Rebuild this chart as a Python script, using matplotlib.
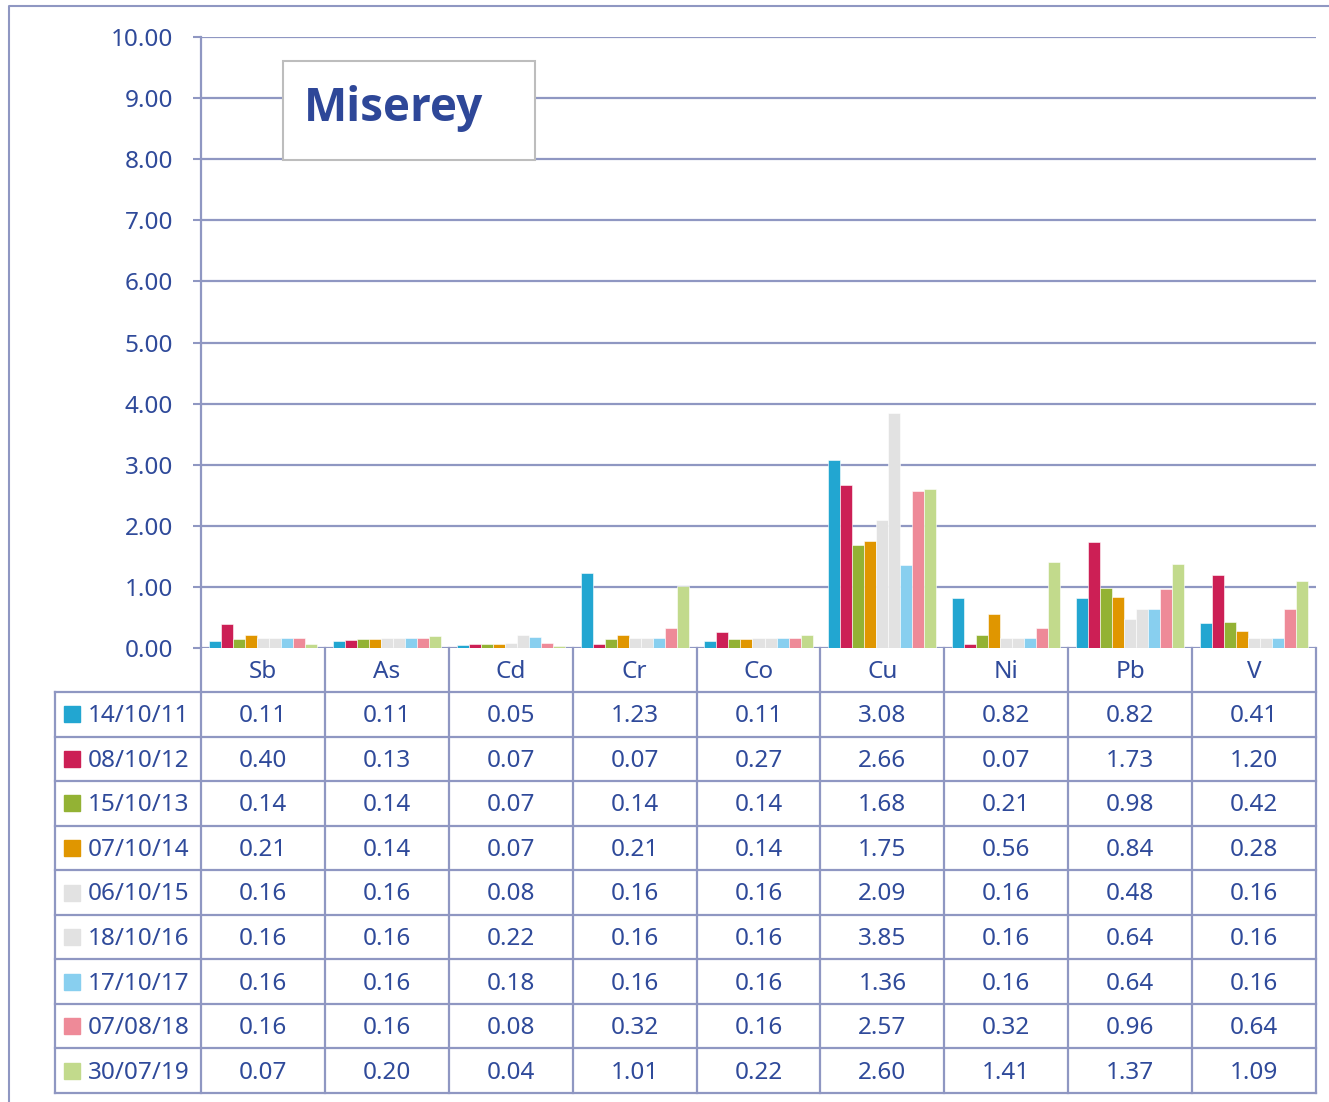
import matplotlib
matplotlib.use("Agg")
import matplotlib.pyplot as plt
import numpy as np

# data
elements = ["Sb", "As", "Cd", "Cr", "Co", "Cu", "Ni", "Pb", "V"]
dates = ["14/10/11", "08/10/12", "15/10/13", "07/10/14", "06/10/15",
         "18/10/16", "17/10/17", "07/08/18", "30/07/19"]
v_141011 = [0.11, 0.11, 0.05, 1.23, 0.11, 3.08, 0.82, 0.82, 0.41]
v_081012 = [0.40, 0.13, 0.07, 0.07, 0.27, 2.66, 0.07, 1.73, 1.20]
v_151013 = [0.14, 0.14, 0.07, 0.14, 0.14, 1.68, 0.21, 0.98, 0.42]
v_071014 = [0.21, 0.14, 0.07, 0.21, 0.14, 1.75, 0.56, 0.84, 0.28]
v_061015 = [0.16, 0.16, 0.08, 0.16, 0.16, 2.09, 0.16, 0.48, 0.16]
v_181016 = [0.16, 0.16, 0.22, 0.16, 0.16, 3.85, 0.16, 0.64, 0.16]
v_171017 = [0.16, 0.16, 0.18, 0.16, 0.16, 1.36, 0.16, 0.64, 0.16]
v_070818 = [0.16, 0.16, 0.08, 0.32, 0.16, 2.57, 0.32, 0.96, 0.64]
v_300719 = [0.07, 0.20, 0.04, 1.01, 0.22, 2.60, 1.41, 1.37, 1.09]
series = [v_141011, v_081012, v_151013, v_071014, v_061015,
          v_181016, v_171017, v_070818, v_300719]
colors = ["#22A6D1", "#CC1F55", "#93B234", "#E09600", "#E2E2E2",
          "#E2E2E2", "#88CFEF", "#EE8A98", "#C2DA8C"]

TXT = "#2F4A9A"
GRID = "#8F97C2"
FONT = "Noto Sans"
FS = 17.5

W, H = 1329, 1102
fig = plt.figure(figsize=(W / 100, H / 100), dpi=100)

# chart area in pixel coordinates
x0, x1, ytop, ybot = 201, 1316, 37, 648
ax = fig.add_axes([x0 / W, 1 - ybot / H, (x1 - x0) / W, (ybot - ytop) / H])
n = len(elements)
k = len(series)
bw = 0.097
x = np.arange(n)
for i, (vals, c) in enumerate(zip(series, colors)):
    ax.bar(x - bw * k / 2 + bw * (i + 0.5), vals, bw, color=c, zorder=3,
           edgecolor="white", linewidth=0.4)
ax.set_xlim(-0.5, n - 0.5)
ax.set_ylim(0, 10)
ax.set_yticks(np.arange(0, 11, 1))
ax.set_yticklabels([f"{t:.2f}" for t in range(11)], fontsize=FS,
                   color=TXT, family=FONT)
ax.tick_params(axis="y", length=6, width=1.5, color=GRID, pad=14)
ax.set_xticks([])
ax.grid(axis="y", color=GRID, linewidth=1.6, zorder=0)
for s in ["top", "right", "bottom"]:
    ax.spines[s].set_visible(False)
ax.spines["left"].set_color(GRID)
ax.spines["left"].set_linewidth(1.6)

# overlay for the title box, table and frame, in pixels
ov = fig.add_axes([0, 0, 1, 1])
ov.set_xlim(0, W)
ov.set_ylim(H, 0)
ov.axis("off")
ov.patch.set_alpha(0)

ov.plot([9, 9, W + 5], [H + 5, 6, 6], color=GRID, lw=1.5)

ov.add_patch(plt.Rectangle((283, 61), 252, 99, fc="white", ec="#BDBDBD", lw=1.5))
ov.text(304, 108, "Miserey", ha="left", va="center", fontsize=33,
        fontweight="bold", color="#2E4798", family="Open Sans")

col_edges = np.linspace(x0, x1, n + 1)
row_top = 692
row_h = (1093 - row_top) / k
for xe in col_edges:
    ov.plot([xe, xe], [ybot, 1093], color=GRID, lw=1.6)
ov.plot([55, 55], [row_top, 1093], color=GRID, lw=1.6)
for r in range(k + 1):
    yy = row_top + r * row_h
    ov.plot([55, x1], [yy, yy], color=GRID, lw=1.6)

for j, el in enumerate(elements):
    cx = (col_edges[j] + col_edges[j + 1]) / 2
    ov.text(cx, (ybot + row_top) / 2 + 2, el, ha="center", va="center",
            fontsize=FS, color=TXT, family=FONT)

for i, (d, vals, c) in enumerate(zip(dates, series, colors)):
    cy = row_top + (i + 0.5) * row_h
    ov.add_patch(plt.Rectangle((64, cy - 8), 16, 16, color=c))
    ov.text(88, cy + 2, d, ha="left", va="center", fontsize=FS,
            color=TXT, family=FONT)
    for j, v in enumerate(vals):
        cx = (col_edges[j] + col_edges[j + 1]) / 2
        ov.text(cx, cy + 2, f"{v:.2f}", ha="center", va="center",
                fontsize=FS, color=TXT, family=FONT)

fig.savefig("out.png", dpi=100)
